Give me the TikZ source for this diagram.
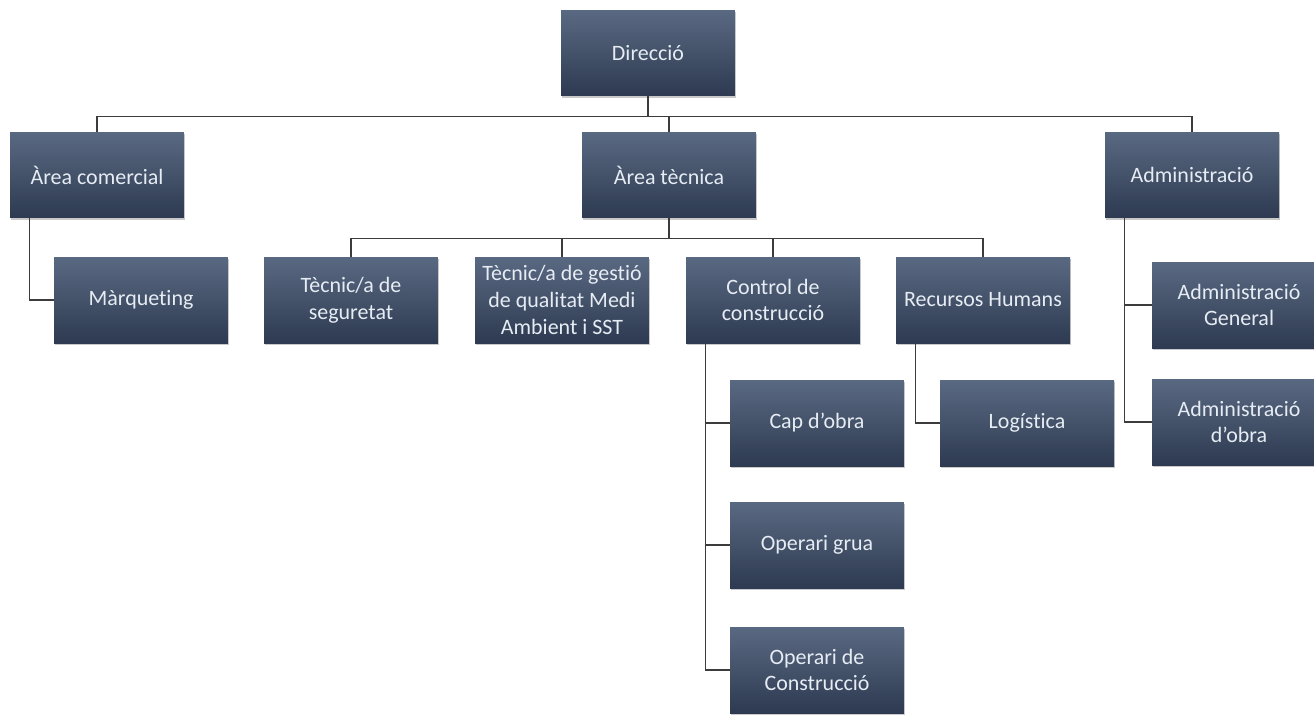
\documentclass[tikz,border=0pt]{standalone}
\usepackage{fontspec}
\setmainfont[Ligatures=NoCommon]{Carlito}
\usetikzlibrary{shadows}
\definecolor{boxtop}{HTML}{5A6982}
\definecolor{boxbot}{HTML}{2D3A51}
\definecolor{boxtext}{HTML}{E6ECF3}
\definecolor{linegray}{HTML}{3C3C3C}
\tikzset{
  orgbox/.style={rectangle, minimum width=3.48cm, minimum height=1.72cm,
    top color=boxtop, bottom color=boxbot, text=boxtext, align=center,
    inner sep=1pt, font=\fontsize{12.5}{15.3}\selectfont,
    drop shadow={shadow xshift=0.5pt, shadow yshift=-1.2pt, opacity=0.35, fill=black!60}},
  link/.style={draw=linegray, line width=0.8pt}
}
\begin{document}
\begin{tikzpicture}[x=0.02cm, y=-0.02cm]
\useasboundingbox[fill=white] (0,0) rectangle (1314,714);

\node[orgbox] (dir) at (648, 53) {Direcció};

\node[orgbox] (com) at (97, 175) {Àrea comercial};
\node[orgbox] (tec) at (669, 175) {Àrea tècnica};
\node[orgbox] (adm) at (1192, 175) {Administració};

\node[orgbox] (mkt) at (141, 300) {Màrqueting};
\node[orgbox] (seg) at (351, 300) {Tècnic/a de\\seguretat};
\node[orgbox] (qua) at (562, 300) {Tècnic/a de gestió\\de qualitat Medi\\Ambient i SST};
\node[orgbox] (ctl) at (773, 300) {Control de\\construcció};
\node[orgbox] (rh) at (983, 300) {Recursos Humans};
\node[orgbox] (adg) at (1239, 305) {Administració\\General};

\node[orgbox] (cap) at (817, 423) {Cap d’obra};
\node[orgbox] (log) at (1027, 423) {Logística};
\node[orgbox] (ado) at (1239, 422) {Administració\\d’obra};
\node[orgbox] (gru) at (817, 545) {Operari grua};
\node[orgbox] (con) at (817, 670) {Operari de\\Construcció};

% bus from Direccio
\draw[link] (dir.south) -- ++(0,20) -| (com.north);
\draw[link] (dir.south) -- ++(0,20) -| (tec.north);
\draw[link] (dir.south) -- ++(0,20) -| (adm.north);

% bus from Area tecnica
\draw[link] (tec.south) -- ++(0,20) -| (seg.north);
\draw[link] (tec.south) -- ++(0,20) -| (qua.north);
\draw[link] (tec.south) -- ++(0,20) -| (ctl.north);
\draw[link] (tec.south) -- ++(0,20) -| (rh.north);

% side branches
\draw[link] ([xshift=0.4cm]com.south west) |- (mkt.west);
\draw[link] ([xshift=0.4cm]ctl.south west) |- (cap.west);
\draw[link] ([xshift=0.4cm]ctl.south west) |- (gru.west);
\draw[link] ([xshift=0.4cm]ctl.south west) |- (con.west);
\draw[link] ([xshift=0.4cm]rh.south west) |- (log.west);
\draw[link] ([xshift=0.4cm]adm.south west) |- (adg.west);
\draw[link] ([xshift=0.4cm]adm.south west) |- (ado.west);
\end{tikzpicture}
\end{document}
